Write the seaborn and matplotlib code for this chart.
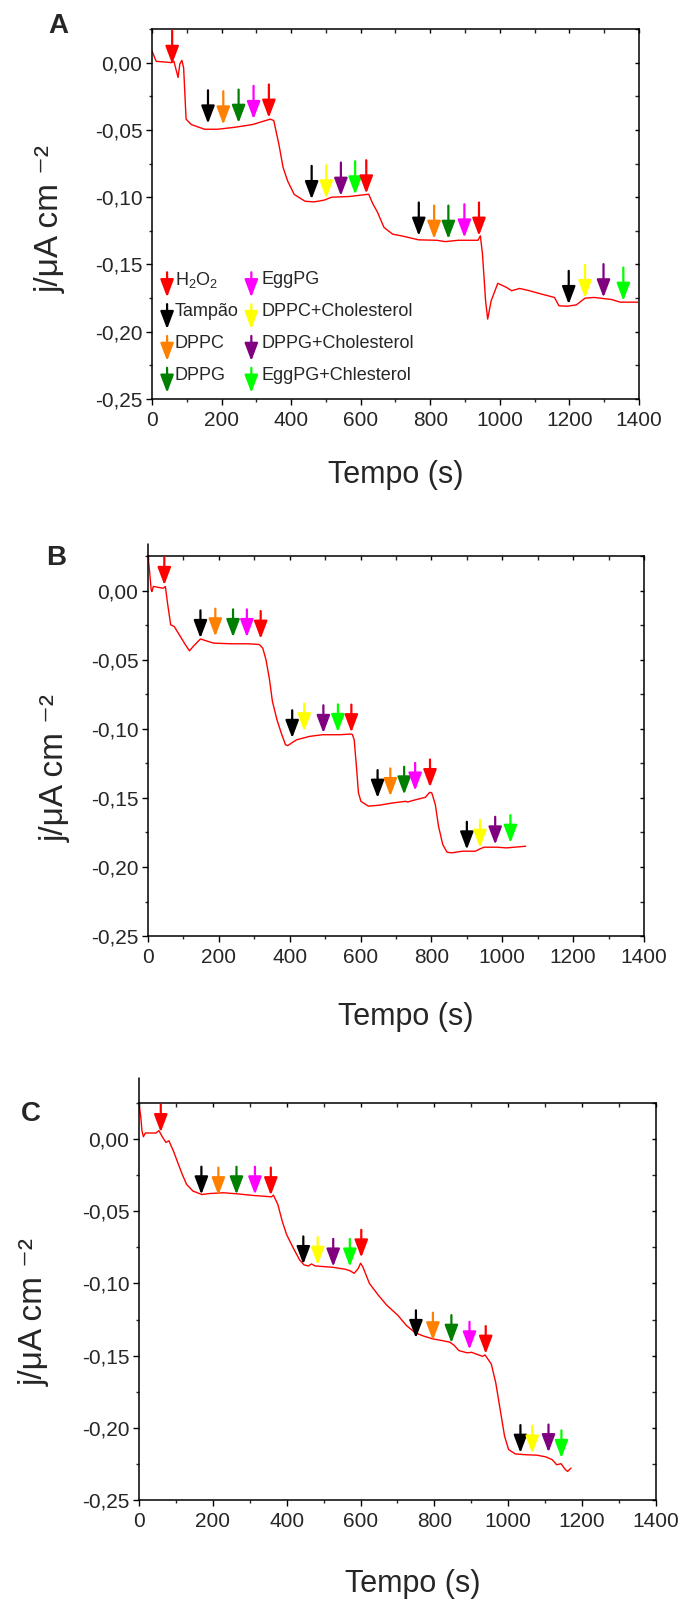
import numpy as np
import pandas as pd
import seaborn as sns
import matplotlib.pyplot as plt
from matplotlib.ticker import MultipleLocator, FuncFormatter

# species added (legend order) and their arrow colours
species = ['H$_2$O$_2$', 'Tampão', 'DPPC', 'DPPG', 'EggPG',
           'DPPC+Cholesterol', 'DPPG+Cholesterol', 'EggPG+Chlesterol']
species_colors = ['#FF0000', '#000000', '#FF8000', '#007F00', '#FF00FF',
                  '#FFFF00', '#800080', '#00FF00']

# ---- panel A ----
A_t = [0, 12, 57, 63, 75, 80, 86, 91, 98, 113, 151, 189, 239, 289, 340, 350, 365, 377, 390, 409,
       440, 465, 484, 497, 516, 566, 623, 635, 648, 667, 692, 717, 767, 818, 843, 881, 937, 944, 950, 959,
       965, 975, 994, 1019, 1034, 1057, 1082, 1120, 1157, 1170, 1195, 1220, 1245, 1271, 1321, 1346, 1396]
A_j = [0.0087, 0.001, 0.0, 0.001, -0.011, -0.001, 0.0017, -0.004, -0.042, -0.046,
       -0.0495, -0.0495, -0.048, -0.046, -0.042, -0.043, -0.061, -0.078, -0.088, -0.098,
       -0.103, -0.1035, -0.1027, -0.102, -0.100, -0.0995, -0.0978, -0.105, -0.111, -0.1225,
       -0.1275, -0.1287, -0.1317, -0.132, -0.133, -0.132, -0.132, -0.1287, -0.142, -0.177,
       -0.1906, -0.177, -0.164, -0.167, -0.1695, -0.1678, -0.1693, -0.172, -0.1745, -0.1807,
       -0.181, -0.180, -0.175, -0.1745, -0.176, -0.178, -0.178]
A_arrow_t = [58, 161, 205, 249, 292, 336, 459, 501, 543, 584, 616,
             767, 811, 852, 898, 940, 1198, 1245, 1298, 1355]
A_arrow_tip = [-0.001, -0.0453, -0.046, -0.0448, -0.042, -0.041,
               -0.1015, -0.101, -0.099, -0.098, -0.0973,
               -0.1287, -0.131, -0.131, -0.130, -0.1287,
               -0.1795, -0.175, -0.1745, -0.177]

# ---- panel B ----
B_t = [0, 4, 9, 11, 15, 43, 49, 55, 64, 74, 86, 105, 117, 129, 148, 160, 185, 234, 283, 314,
       324, 333, 343, 351, 364, 376, 388, 394, 419, 456, 493, 542, 573, 577, 582, 589, 594, 601, 622, 653,
       690, 727, 733, 746, 783, 795, 801, 811, 820, 832, 844, 857, 887, 924, 937, 949, 986, 1011, 1035, 1066]
B_j = [0.025, 0.015, 0.0005, -0.0007, 0.003, 0.0017, 0.003, -0.009, -0.0248, -0.026,
       -0.031, -0.039, -0.0436, -0.040, -0.035, -0.036, -0.038, -0.0385, -0.0385, -0.039,
       -0.0417, -0.050, -0.0645, -0.080, -0.0935, -0.103, -0.1115, -0.1122, -0.108, -0.1055,
       -0.1043, -0.1043, -0.1038, -0.1042, -0.108, -0.1296, -0.1464, -0.1525, -0.156, -0.1553,
       -0.1537, -0.1525, -0.153, -0.152, -0.1496, -0.146, -0.1464, -0.1549, -0.1705, -0.1838,
       -0.1893, -0.1898, -0.1886, -0.1886, -0.1869, -0.1857, -0.1857, -0.1862, -0.1857, -0.185]
B_arrow_t = [46, 148, 190, 240, 279, 318, 407, 441, 495, 536, 574,
             648, 684, 723, 754, 796, 900, 937, 980, 1023]
B_arrow_tip = [0.004, -0.0344, -0.0332, -0.0337, -0.0337, -0.0349,
               -0.1067, -0.1019, -0.1031, -0.1024, -0.1026,
               -0.150, -0.1488, -0.1476, -0.1448, -0.1423,
               -0.1874, -0.1862, -0.1838, -0.1826]

# ---- panel C ----
C_t = [0, 5, 8, 12, 17, 46, 54, 64, 73, 81, 93, 105, 117, 129, 146, 170, 193, 229, 264, 311,
       359, 364, 376, 388, 400, 418, 435, 447, 459, 467, 477, 524, 559, 571, 583, 594, 600, 606, 624, 648,
       671, 701, 724, 748, 771, 795, 819, 842, 854, 866, 889, 901, 919, 931, 937, 954, 966, 978, 990, 1001,
       1019, 1043, 1078, 1102, 1119, 1131, 1143, 1155, 1161, 1170]
C_j = [0.0249, 0.015, 0.0058, 0.0016, 0.0042, 0.0042, 0.0058, 0.0012, -0.0023, -0.0012,
       -0.0081, -0.0163, -0.0244, -0.0314, -0.036, -0.0384, -0.0377, -0.0372, -0.0379, -0.0391,
       -0.040, -0.0388, -0.0453, -0.057, -0.0663, -0.0756, -0.0837, -0.0872, -0.0879, -0.0865,
       -0.0879, -0.0888, -0.0902, -0.0912, -0.093, -0.0895, -0.086, -0.0884, -0.100, -0.1081,
       -0.1151, -0.1221, -0.1291, -0.1342, -0.1365, -0.1384, -0.1395, -0.1407, -0.143, -0.1465,
       -0.1481, -0.1477, -0.1495, -0.1505, -0.1495, -0.1558, -0.1686, -0.1872, -0.2058, -0.2151,
       -0.2181, -0.2186, -0.219, -0.2202, -0.2221, -0.2256, -0.2249, -0.2291, -0.2302, -0.2279]
C_arrow_t = [59, 169, 215, 264, 314, 357, 445, 484, 526, 571, 602,
             750, 796, 846, 895, 939, 1033, 1065, 1109, 1144]
C_arrow_tip = [0.0047, -0.0384, -0.039, -0.0384, -0.0384, -0.039,
               -0.0867, -0.0872, -0.0884, -0.0884, -0.0821,
               -0.1379, -0.1395, -0.1412, -0.1458, -0.1488,
               -0.2174, -0.2179, -0.217, -0.221]

# which species each arrow marks (same sequence in all three runs)
arrow_species = [0, 1, 2, 3, 4, 0, 1, 5, 6, 7, 0, 1, 2, 3, 4, 0, 1, 5, 6, 7]

sns.set_style('ticks')
plt.rcParams['font.family'] = ['Liberation Sans', 'DejaVu Sans']
plt.rcParams['mathtext.fontset'] = 'custom'
plt.rcParams['mathtext.rm'] = 'Liberation Sans'
plt.rcParams['mathtext.it'] = 'Liberation Sans:italic'

fig = plt.figure(figsize=(6.84, 16.02), dpi=100)

panels = [
    dict(name='A', rect=[0.2222, 0.7509, 0.712, 0.231], t=A_t, j=A_j, at=A_arrow_t, aj=A_arrow_tip,
         alen=24, ylab=(-0.209, 0.486), xlab=(0.5, -0.205), letter=(0.070, 0.9794), ext=0),
    dict(name='B', rect=[0.2164, 0.4157, 0.7251, 0.2372], t=B_t, j=B_j, at=B_arrow_t, aj=B_arrow_tip,
         alen=20, ylab=(-0.1875, 0.442), xlab=(0.52, -0.213), letter=(0.068, 0.6473), ext=0.032),
    dict(name='C', rect=[0.2032, 0.0637, 0.7558, 0.2478], t=C_t, j=C_j, at=C_arrow_t, aj=C_arrow_tip,
         alen=20, ylab=(-0.203, 0.474), xlab=(0.53, -0.212), letter=(0.030, 0.300), ext=0.063),
]

comma = FuncFormatter(lambda v, p: f'{v:.2f}'.replace('.', ','))
arrow_style = '-|>,head_length=0.9,head_width=0.34'

for p in panels:
    ax = fig.add_axes(p['rect'])
    df = pd.DataFrame({'t': p['t'], 'j': p['j']})
    sns.lineplot(data=df, x='t', y='j', ax=ax, color='#FF0000', lw=1.0, sort=False)

    # addition arrows
    for x, tip, s in zip(p['at'], p['aj'], arrow_species):
        ax.annotate('', xy=(x, tip), xytext=(0, p['alen']), textcoords='offset points',
                    xycoords='data', annotation_clip=False,
                    arrowprops=dict(arrowstyle=arrow_style, mutation_scale=12,
                                    color=species_colors[s], lw=1.6, shrinkA=0, shrinkB=0))

    ax.set_xlim(0, 1400)
    ax.set_ylim(-0.25, 0.025)
    ax.xaxis.set_major_locator(MultipleLocator(200))
    ax.xaxis.set_minor_locator(MultipleLocator(100))
    ax.yaxis.set_major_locator(MultipleLocator(0.05))
    ax.yaxis.set_minor_locator(MultipleLocator(0.025))
    ax.yaxis.set_major_formatter(comma)
    ax.tick_params(which='major', direction='out', length=4.5, width=1.0, labelsize=15, pad=2.5,
                   color='black')
    ax.tick_params(which='minor', direction='out', length=2.5, width=1.0)
    ax.tick_params(axis='x', which='major', pad=4)
    ax.tick_params(which='both', top=True, right=True)
    # top/right ticks point inward
    for tl in ax.xaxis.get_major_ticks() + ax.xaxis.get_minor_ticks():
        tl.tick2line.set_marker(3)
        tl.tick2line.set_markersize(3)
    for tl in ax.yaxis.get_major_ticks() + ax.yaxis.get_minor_ticks():
        tl.tick2line.set_marker(0)
        tl.tick2line.set_markersize(3)
    for sp in ax.spines.values():
        sp.set_linewidth(1.1)
        sp.set_color('black')
    if p['ext'] > 0:
        ax.axvline(0, ymin=1, ymax=1 + p['ext'], color='black', lw=1.1, clip_on=False)

    ax.set_xlabel('Tempo (s)', fontsize=22)
    ax.set_ylabel('j/μA cm ⁻²', fontsize=24)
    ax.xaxis.set_label_coords(*p['xlab'])
    ax.yaxis.set_label_coords(*p['ylab'])
    ax.xaxis.label.set_va('center')
    ax.yaxis.label.set_va('center')

    fig.text(p['letter'][0], p['letter'][1], p['name'], fontsize=20, fontweight='bold',
             ha='left', va='baseline')

    if p['name'] == 'A':
        # hand-drawn legend of arrows, two columns of four
        for s in range(len(species)):
            col, row = divmod(s, 4)
            ax_x = [0.031, 0.204][col]
            tx_x = [0.047, 0.224][col]
            tip_y = 0.275 - row * 0.086
            ax.annotate('', xy=(ax_x, tip_y), xycoords='axes fraction',
                        xytext=(0, 18), textcoords='offset points',
                        arrowprops=dict(arrowstyle=arrow_style, mutation_scale=12,
                                        color=species_colors[s], lw=1.6, shrinkA=0, shrinkB=0))
            ax.text(tx_x, tip_y + 0.047, species[s], transform=ax.transAxes,
                    fontsize=13, ha='left', va='center')

fig.savefig('out.png', dpi=100)
